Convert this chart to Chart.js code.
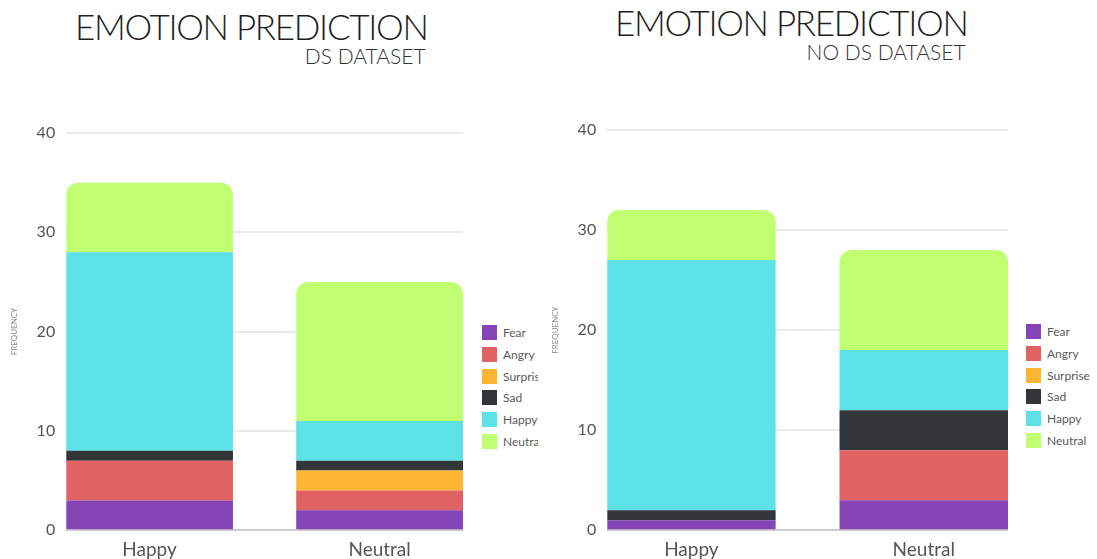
<!DOCTYPE html>
<html>
<head>
<meta charset="utf-8">
<title>Emotion prediction</title>
<script src="https://cdn.jsdelivr.net/npm/chart.js@4"></script>
<style>
  body { margin: 0; background: #fff; font-family: Lato, "Open Sans", sans-serif; }
  .panel { position: absolute; top: 0; height: 559px; overflow: hidden; }
  .heading { position: absolute; text-align: right; color: #1e1e1e; }
  .heading .title { font-size: 35px; font-weight: 300; letter-spacing: -1.3px; line-height: 36px; white-space: nowrap; }
  .heading .subtitle { font-size: 21px; font-weight: 300; color: #333; line-height: 21px; margin-top: 1px; margin-right: 2px; }
  .plot { position: absolute; top: 0; }
  .legend { position: absolute; list-style: none; margin: 0; padding: 0; white-space: nowrap; }
  .legend li { height: 15px; margin-bottom: 6.8px; font-size: 12px; line-height: 15px; color: #5a5a5a; }
  .legend .swatch { display: inline-block; width: 15px; height: 15px; vertical-align: top; margin-right: 6px; }
</style>
</head>
<body>

<div class="panel" style="left:0; width:538px;">
  <div class="heading" style="left:75px; top:8px;">
    <div class="title">EMOTION PREDICTION</div>
    <div class="subtitle">DS DATASET</div>
  </div>
  <div class="plot" style="left:4px;"><canvas id="dsChart"></canvas></div>
  <ul class="legend" id="dsLegend" style="left:482px; top:325px;"></ul>
</div>

<div class="panel" style="left:545px; width:552px;">
  <div class="heading" style="left:70px; top:4px;">
    <div class="title">EMOTION PREDICTION</div>
    <div class="subtitle">NO DS DATASET</div>
  </div>
  <div class="plot" style="left:0;"><canvas id="noDsChart"></canvas></div>
  <ul class="legend" id="noDsLegend" style="left:481px; top:324px;"></ul>
</div>

<script>
// true emotion on the x axis
const categories = ['Happy', 'Neutral'];
// predicted emotion, one stacked series each
const emotions = ['Fear', 'Angry', 'Surprise', 'Sad', 'Happy', 'Neutral'];
const colors = ['#8645b7', '#e16262', '#fdb634', '#323537', '#5ce1e6', '#c1ff72'];
const yTicks = [0, 10, 20, 30, 40];

// with DS dataset, values for [Happy, Neutral]
const dsFear = [3, 2];
const dsAngry = [4, 2];
const dsSurprise = [0, 2];
const dsSad = [1, 1];
const dsHappy = [20, 4];
const dsNeutral = [7, 14];

// without DS dataset
const noDsFear = [1, 3];
const noDsAngry = [0, 5];
const noDsSurprise = [0, 0];
const noDsSad = [1, 4];
const noDsHappy = [25, 6];
const noDsNeutral = [5, 10];

function buildDatasets(series) {
    return series.map((values, i) => ({
        label: emotions[i],
        data: values.map((v, j) => ({ x: j, y: v })),
        backgroundColor: colors[i],
        // only the top of each stack is rounded
        borderRadius: i == series.length - 1 ? { topLeft: 12, topRight: 12 } : 0
    }));
}

function makeChart(canvasId, legendId, series, padTop) {
    let chart = new Chart(document.getElementById(canvasId), {
        type: 'bar',
        data: { datasets: buildDatasets(series) },
        options: {
            responsive: false,
            animation: false,
            layout: { padding: { top: padTop, right: 0, bottom: 0 } },
            datasets: { bar: { barPercentage: 1, categoryPercentage: 0.725 } },
            plugins: { legend: { display: false }, tooltip: { enabled: false } },
            scales: {
                x: {
                    type: 'linear',
                    stacked: true,
                    offset: false,
                    min: -0.3625,
                    max: 1.3625,
                    afterBuildTicks: axis => {
                        axis.ticks = categories.map((c, i) => ({ value: i }));
                    },
                    ticks: {
                        callback: v => categories[v],
                        color: '#555',
                        padding: 0,
                        font: { family: 'Lato', size: 19 }
                    },
                    grid: { display: false, offset: false },
                    border: { display: false }
                },
                y: {
                    stacked: true,
                    min: 0,
                    max: 40,
                    afterBuildTicks: axis => {
                        axis.ticks = yTicks.map(v => ({ value: v }));
                    },
                    ticks: {
                        color: '#555',
                        padding: 11,
                        font: { family: 'Lato', size: 16 }
                    },
                    grid: {
                        drawTicks: false,
                        lineWidth: 2,
                        color: ctx => ctx.tick && ctx.tick.value == 0 ? '#cccccc' : '#ebebeb'
                    },
                    border: { display: false },
                    title: {
                        display: true,
                        text: 'FREQUENCY',
                        color: '#8a8a8a',
                        padding: 6,
                        font: { family: 'Lato', size: 8 }
                    }
                }
            }
        }
    });

    // legend list built from the chart's own datasets
    let legend = document.getElementById(legendId);
    chart.data.datasets.forEach(ds => {
        let li = document.createElement('li');
        li.innerHTML = `<span class="swatch" style="background:${ds.backgroundColor}"></span>${ds.label}`;
        legend.appendChild(li);
    });
    return chart;
}

function sizeCanvas(id, w, h) {
    let c = document.getElementById(id);
    c.width = w;
    c.height = h;
    c.style.width = w + 'px';
    c.style.height = h + 'px';
}

sizeCanvas('dsChart', 459, 561);
sizeCanvas('noDsChart', 463, 561);

makeChart('dsChart', 'dsLegend', [dsFear, dsAngry, dsSurprise, dsSad, dsHappy, dsNeutral], 133);
makeChart('noDsChart', 'noDsLegend', [noDsFear, noDsAngry, noDsSurprise, noDsSad, noDsHappy, noDsNeutral], 130);
</script>
</body>
</html>
